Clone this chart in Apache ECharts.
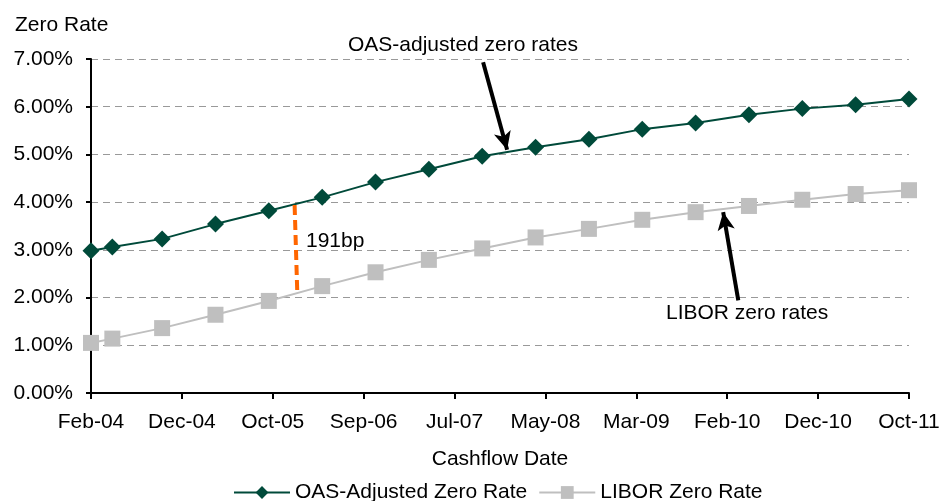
<!DOCTYPE html>
<html>
<head>
<meta charset="utf-8">
<script src="https://cdn.jsdelivr.net/npm/echarts@6/dist/echarts.min.js"></script>
<style>
  html, body { margin: 0; padding: 0; background: #fff; }
  #chart { width: 943px; height: 501px; }
</style>
</head>
<body>
<div id="chart"></div>
<script>
// months after Feb-04 for each cashflow date
const cashflowMonths = [0, 2.4, 8, 14, 20, 26, 32, 38, 44, 50, 56, 62, 68, 74, 80, 86, 92]
const oasRates = [2.98, 3.06, 3.23, 3.54, 3.82, 4.10, 4.42, 4.69, 4.96, 5.15, 5.32, 5.53, 5.66, 5.83, 5.96, 6.04, 6.16]
const liborRates = [1.05, 1.14, 1.36, 1.64, 1.93, 2.24, 2.53, 2.79, 3.03, 3.26, 3.44, 3.63, 3.79, 3.92, 4.05, 4.17, 4.25]
const tickLabels = ['Feb-04', 'Dec-04', 'Oct-05', 'Sep-06', 'Jul-07', 'May-08', 'Mar-09', 'Feb-10', 'Dec-10', 'Oct-11']

const monthsPerTick = 92 / (tickLabels.length - 1)
const toX = m => m / monthsPerTick

const font = 'Liberation Sans, Arial, sans-serif'
const fs = 21
const oasColor = '#004A3A'
const liborColor = '#BFBFBF'

const chart = echarts.init(document.getElementById('chart'))

function zip(vals) {
  return cashflowMonths.map((m, i) => [toX(m), vals[i]])
}

const option = {
  animation: false,
  textStyle: { fontFamily: font, color: '#000' },
  title: {
    text: 'Zero Rate',
    left: 10, top: 10,
    textStyle: { fontFamily: font, fontSize: fs, fontWeight: 'normal', color: '#000' }
  },
  grid: { left: 91, right: 34, top: 59, bottom: 108 },
  xAxis: {
    type: 'value',
    min: 0, max: tickLabels.length - 1, interval: 1,
    name: 'Cashflow Date',
    nameLocation: 'middle',
    nameGap: 56,
    nameTextStyle: { fontSize: fs, color: '#000', fontFamily: font },
    axisLine: { onZero: false, lineStyle: { color: '#000', width: 2 } },
    axisTick: { show: true, length: 6, lineStyle: { color: '#000', width: 2 } },
    axisLabel: {
      fontSize: fs, color: '#000', margin: 19, fontFamily: font,
      formatter: v => tickLabels[Math.round(v)]
    },
    splitLine: { show: false }
  },
  yAxis: {
    type: 'value',
    min: 0, max: 7, interval: 1,
    axisLine: { show: true, lineStyle: { color: '#000', width: 2 } },
    axisTick: { show: true, length: 5, lineStyle: { color: '#000', width: 2 } },
    axisLabel: {
      fontSize: fs, color: '#000', margin: 18, fontFamily: font,
      formatter: v => v.toFixed(2) + '%'
    },
    splitLine: { lineStyle: { color: '#999', type: [7, 5], width: 1 } }
  },
  legend: {
    top: 477,
    left: 228,
    itemWidth: 56,
    itemHeight: 16,
    itemGap: 11,
    textStyle: { fontSize: fs, color: '#000', fontFamily: font },
    data: ['OAS-Adjusted Zero Rate', 'LIBOR Zero Rate']
  },
  series: [
    {
      name: 'OAS-Adjusted Zero Rate',
      type: 'line',
      data: zip(oasRates),
      symbol: 'diamond',
      symbolSize: 17,
      itemStyle: { color: oasColor },
      lineStyle: { color: oasColor, width: 2 },
      z: 3,
      markLine: {
        silent: true,
        symbol: ['none', 'arrow'],
        symbolSize: [13, 18],
        label: { show: false },
        lineStyle: { color: '#000', width: 4, type: 'solid' },
        data: [
          [{ coord: [toX(44.1), 6.93] }, { coord: [toX(46.8), 5.10] }],
          [{ coord: [toX(72.8), 1.94] }, { coord: [toX(71.1), 3.79] }]
        ]
      }
    },
    {
      name: 'LIBOR Zero Rate',
      type: 'line',
      data: zip(liborRates),
      symbol: 'rect',
      symbolSize: 16,
      itemStyle: { color: liborColor },
      lineStyle: { color: liborColor, width: 2 },
      z: 2,
      markLine: {
        silent: true,
        symbol: ['none', 'none'],
        label: { show: false },
        lineStyle: { color: '#FF6600', width: 4, type: [10, 5] },
        data: [
          [{ coord: [toX(22.9), 3.94] }, { coord: [toX(23.2), 2.11] }]
        ]
      }
    }
  ],
  graphic: [
    { type: 'text', left: 348, top: 35, style: { text: 'OAS-adjusted zero rates', fontSize: fs, fontFamily: font, fill: '#000' } },
    { type: 'text', left: 306, top: 231, style: { text: '191bp', fontSize: fs, fontFamily: font, fill: '#000' } },
    { type: 'text', left: 666, top: 303, style: { text: 'LIBOR zero rates', fontSize: fs, fontFamily: font, fill: '#000' } }
  ]
}

chart.setOption(option)
</script>
</body>
</html>
